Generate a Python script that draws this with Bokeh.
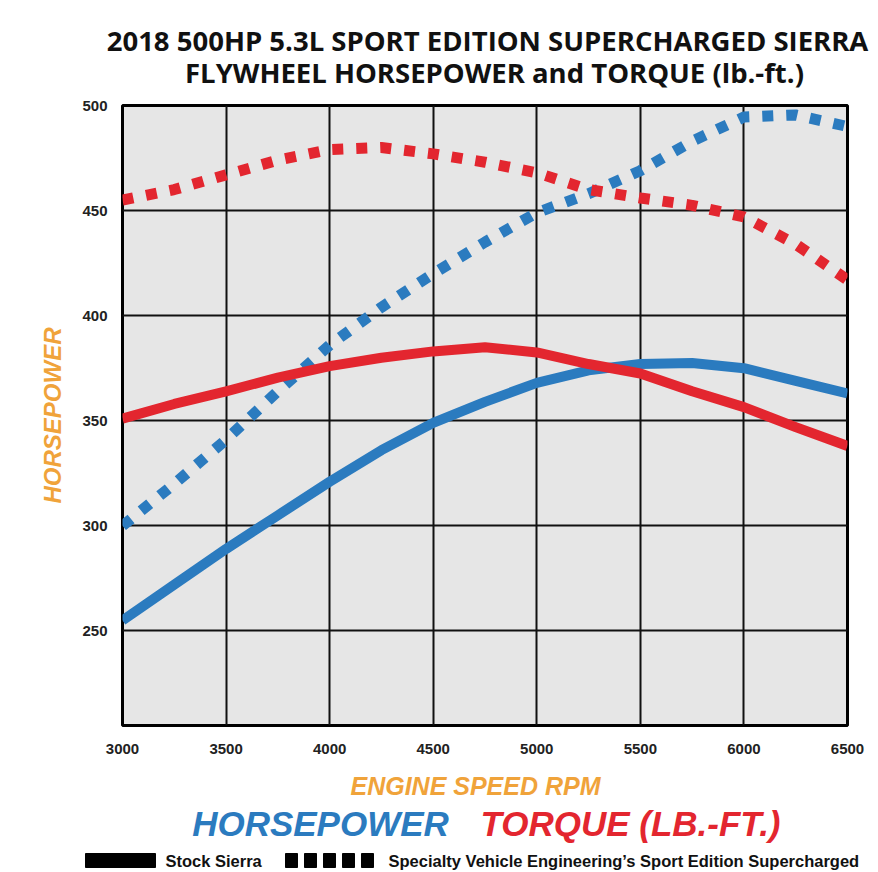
from bokeh.plotting import figure
from bokeh.models import FixedTicker, Range1d
from bokeh.layouts import column
from bokeh.core.properties import value
from bokeh.embed import file_html
from bokeh.resources import INLINE

# ---- data ----
rpm = [3000, 3250, 3500, 3750, 4000, 4250, 4500, 4750, 5000, 5250, 5500, 5750, 6000, 6250, 6500]
stock_hp = [255, 272, 289, 305, 321, 336, 349, 359, 368, 374, 377, 377.5, 375, 369, 363]
stock_tq = [351, 358, 364, 370.5, 376, 380, 383, 385, 382.5, 377, 372.5, 364, 356.5, 347, 338]
sve_hp = [300, 320, 341, 364, 386, 404, 420, 435, 449, 458, 469, 483, 494.5, 495.5, 490]
sve_tq = [455, 460, 467, 474, 479, 480, 477, 473, 468, 460, 456, 452.5, 447, 434, 417]
x_ticks = [3000, 3500, 4000, 4500, 5000, 5500, 6000, 6500]
y_ticks = [250, 300, 350, 400, 450, 500]

title_lines = ["2018 500HP 5.3L SPORT EDITION SUPERCHARGED SIERRA",
               "FLYWHEEL HORSEPOWER and TORQUE (lb.-ft.)"]
legend_labels = ["Stock Sierra", "Specialty Vehicle Engineering\u2019s Sport Edition Supercharged"]

BLUE = "#2b7bbf"
RED = "#e3262f"
ORANGE = "#f0a33a"
W = 876


def text_fig(top, bottom):
    f = figure(width=W, height=bottom - top, x_range=Range1d(0, W), y_range=Range1d(bottom, top),
               output_backend="svg", toolbar_location=None,
               x_axis_location=None, y_axis_location=None,
               min_border=0, min_border_left=0, min_border_right=0,
               min_border_top=0, min_border_bottom=0, frame_align=False)
    f.outline_line_color = None
    f.grid.visible = False
    f.background_fill_color = "white"
    f.border_fill_color = "white"
    return f


def txt(f, s, x, y, size, color, font="Liberation Sans", style="bold", align="center",
        baseline="middle"):
    f.text(x=[x], y=[y], text=[s], text_font=value(font), text_font_style=style,
           text_font_size=f"{size}px", text_color=color, text_align=align,
           text_baseline=baseline)


# ---- top: titles ----
top = text_fig(0, 95)
txt(top, title_lines[0], 487, 40, 27.5, "#111111", font="Open Sans")
txt(top, title_lines[1], 494, 72, 27.5, "#111111", font="Open Sans")

# ---- main chart ----
p = figure(width=W, height=670, x_range=Range1d(3000, 6500), y_range=Range1d(205, 500),
           output_backend="svg", toolbar_location=None,
           min_border_left=122, min_border_right=29, min_border_top=10, min_border_bottom=40)
p.background_fill_color = "#e6e6e6"
p.border_fill_color = "white"
p.outline_line_color = "black"
p.outline_line_width = 3

p.xaxis.ticker = FixedTicker(ticks=x_ticks)
p.yaxis.ticker = FixedTicker(ticks=y_ticks)
for ax in (p.xaxis, p.yaxis):
    ax.axis_line_color = None
    ax.major_tick_line_color = None
    ax.minor_tick_line_color = None
    ax.major_label_text_font = "Liberation Sans"
    ax.major_label_text_font_style = "bold"
    ax.major_label_text_font_size = "15px"
    ax.major_label_text_color = "#222222"
p.xaxis.major_label_standoff = 12
p.yaxis.major_label_standoff = 9
p.yaxis.axis_label = "HORSEPOWER"
p.yaxis.axis_label_text_font = "Liberation Sans"
p.yaxis.axis_label_text_font_style = "bold italic"
p.yaxis.axis_label_text_font_size = "24px"
p.yaxis.axis_label_text_color = ORANGE
p.yaxis.axis_label_standoff = 13

p.xgrid.ticker = FixedTicker(ticks=x_ticks)
p.ygrid.ticker = FixedTicker(ticks=y_ticks)
for g in (p.xgrid, p.ygrid):
    g.grid_line_color = "#111111"
    g.grid_line_width = 2

p.line(rpm, stock_hp, line_color=BLUE, line_width=10, line_join="round")
p.line(rpm, sve_hp, line_color=BLUE, line_width=11, line_dash="11 13", line_cap="butt")
p.line(rpm, stock_tq, line_color=RED, line_width=10, line_join="round")
p.line(rpm, sve_tq, line_color=RED, line_width=11, line_dash="11 13", line_cap="butt")

# ---- bottom: axis title, series names, line-style key ----
bot = text_fig(765, 872)
txt(bot, "ENGINE SPEED RPM", 475, 785, 25, ORANGE, style="bold italic")
txt(bot, "HORSEPOWER", 320, 823, 35, BLUE, style="bold italic")
txt(bot, "TORQUE (LB.-FT.)", 630, 823, 35, RED, style="bold italic")
bot.quad(left=[85], right=[155], top=[853], bottom=[867], color="black")
bot.quad(left=[285 + i * 19 for i in range(5)], right=[297 + i * 19 for i in range(5)],
         top=[853] * 5, bottom=[867] * 5, color="black")
txt(bot, legend_labels[0], 165, 860, 16.5, "#111111", align="left")
txt(bot, legend_labels[1], 388, 860, 16.5, "#111111", align="left")

layout = column(top, p, bot, spacing=0)
open("out.html", "w").write(file_html(layout, INLINE))
